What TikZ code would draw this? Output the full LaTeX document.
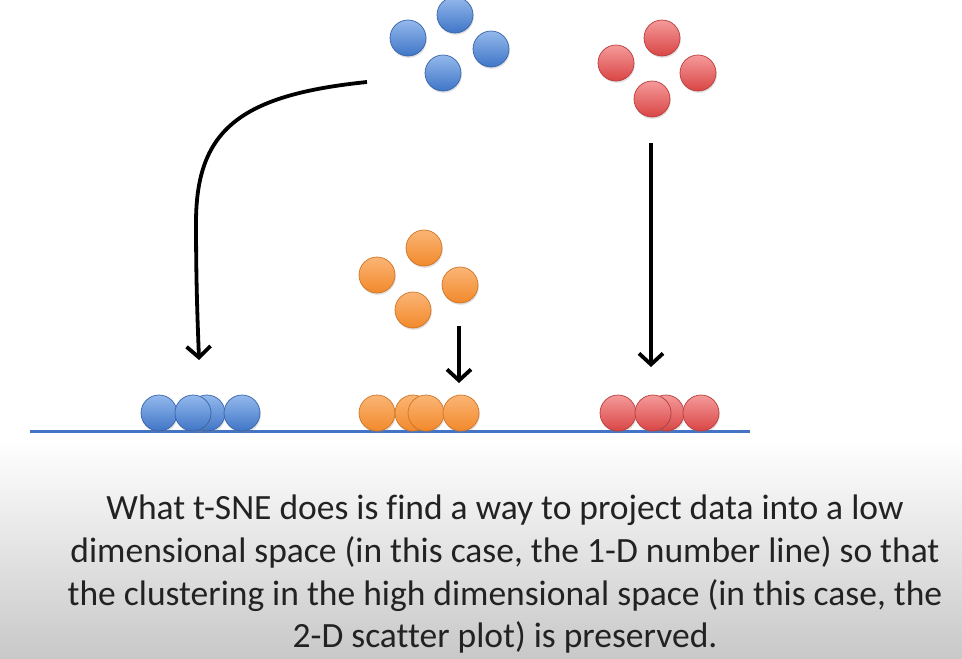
\documentclass[tikz,border=0pt]{standalone}
\usepackage{fontspec}
\setmainfont{Carlito}[Ligatures=NoCommon]
\usetikzlibrary{arrows.meta,shadows}
\definecolor{bluelt}{HTML}{94B9EC}
\definecolor{bluedk}{HTML}{3F75C7}
\definecolor{redlt}{HTML}{F59A9A}
\definecolor{reddk}{HTML}{D94545}
\definecolor{orangelt}{HTML}{FBB575}
\definecolor{orangedk}{HTML}{F2892C}
\definecolor{axisblue}{HTML}{4472C4}
\definecolor{bggray}{HTML}{C8C8C8}
\definecolor{captext}{HTML}{222222}
\tikzset{
  dot/.style={circle,minimum size=36pt,inner sep=0pt,line width=0.7pt,
    draw=#1dk!85!black,top color=#1lt,bottom color=#1dk,
    drop shadow={shadow xshift=0.8pt,shadow yshift=-1.8pt,opacity=0.25}},
  arr/.style={line width=3.8pt,black,-{Straight Barb[length=11pt,width=24pt,line width=3.8pt]}},
  axis/.style={line width=3pt,axisblue},
  capline/.style={font=\fontsize{35.5}{42.7}\selectfont,anchor=base,inner sep=0pt,text=captext},
}
\begin{document}
\begin{tikzpicture}[x=1pt,y=-1pt]
\useasboundingbox (0,0) rectangle (962,659);
\fill[white] (0,0) rectangle (962,440);
\shade[top color=white,bottom color=bggray] (0,440) rectangle (962,659);
% top clusters
\node[dot=blue] (b1) at (455,15) {};
\node[dot=blue] (b2) at (408,38) {};
\node[dot=blue] (b3) at (491,49) {};
\node[dot=blue] (b4) at (443,73) {};
\node[dot=red] (r1) at (662,38) {};
\node[dot=red] (r2) at (616,63) {};
\node[dot=red] (r3) at (698,73) {};
\node[dot=red] (r4) at (652,99) {};
\node[dot=orange] (o1) at (424,248) {};
\node[dot=orange] (o2) at (377,275) {};
\node[dot=orange] (o3) at (460,285) {};
\node[dot=orange] (o4) at (413,310) {};
% number line
\coordinate (la) at (30,431);
\coordinate (lb) at (750,431);
\draw[axis] (la) -- (lb);
% projected dots
\node[dot=blue] (pb1) at (159,413) {};
\node[dot=blue] (pb3) at (207,413) {};
\node[dot=blue] (pb2) at (193,413) {};
\node[dot=blue] (pb4) at (242,413) {};
\node[dot=orange] (po1) at (377,413) {};
\node[dot=orange] (po2) at (413,413) {};
\node[dot=orange] (po3) at (426,413) {};
\node[dot=orange] (po4) at (461,413) {};
\node[dot=red] (pr1) at (618,413) {};
\node[dot=red] (pr3) at (666,413) {};
\node[dot=red] (pr2) at (653,413) {};
\node[dot=red] (pr4) at (701,413) {};
% arrows
\coordinate (ba) at (367,82);
\coordinate (bm) at (196,220);
\coordinate (bb) at (199,360);
\draw[arr] (ba) .. controls (240,95) and (197,130) .. (bm) .. controls (196,290) and (198,330) .. (bb);
\coordinate (oa) at (459,326);
\coordinate (ob) at (459,383);
\draw[arr] (oa) -- (ob);
\coordinate (ra) at (651,143);
\coordinate (rb) at (651,367);
\draw[arr] (ra) -- (rb);
% caption
\node[capline] (cap1) at (505,519) {What t-SNE does is find a way to project data into a low};
\node[capline] (cap2) at (505,562) {dimensional space (in this case, the 1-D number line) so that};
\node[capline] (cap3) at (505,605) {the clustering in the high dimensional space (in this case, the};
\node[capline] (cap4) at (505,647) {2-D scatter plot) is preserved.};
\end{tikzpicture}
\end{document}
